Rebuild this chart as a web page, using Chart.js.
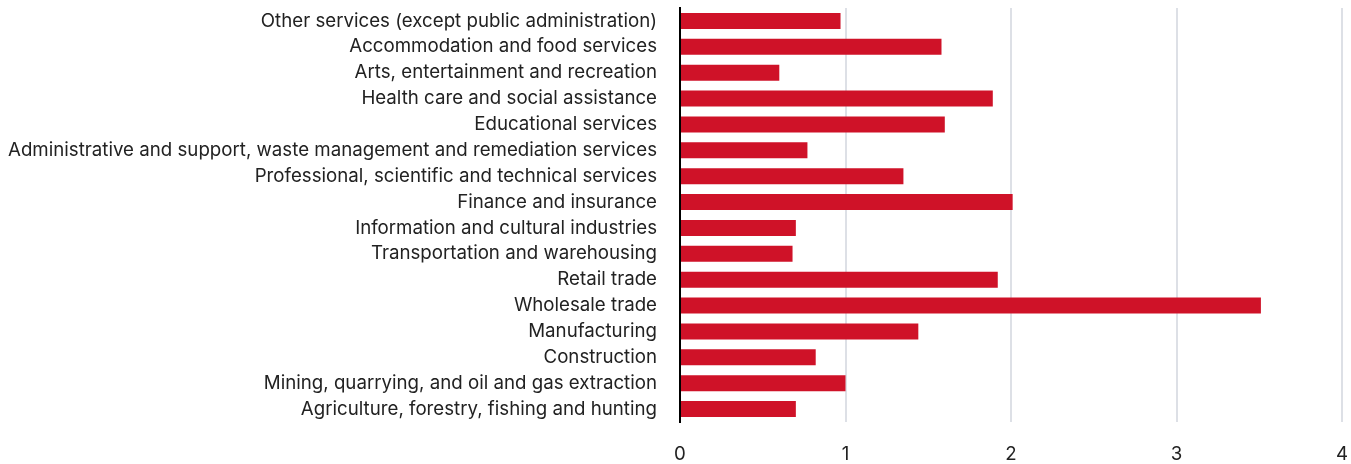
<!DOCTYPE html>
<html>
<head>
<meta charset="utf-8">
<script src="https://cdn.jsdelivr.net/npm/chart.js@4/dist/chart.umd.min.js"></script>
<style>
  html, body { margin: 0; padding: 0; background: #fff; }
  #wrap { width: 1351px; height: 464px; }
</style>
</head>
<body>
<div id="wrap"><canvas id="industries"></canvas></div>
<script>
// industry categories, top to bottom
var industries = [
  "Other services (except public administration)",
  "Accommodation and food services",
  "Arts, entertainment and recreation",
  "Health care and social assistance",
  "Educational services",
  "Administrative and support, waste management and remediation services",
  "Professional, scientific and technical services",
  "Finance and insurance",
  "Information and cultural industries",
  "Transportation and warehousing",
  "Retail trade",
  "Wholesale trade",
  "Manufacturing",
  "Construction",
  "Mining, quarrying, and oil and gas extraction",
  "Agriculture, forestry, fishing and hunting"
];

var values = [0.97, 1.58, 0.60, 1.89, 1.60, 0.77, 1.35, 2.01, 0.70, 0.68, 1.92, 3.51, 1.44, 0.82, 1.00, 0.70];

var xTicks = [0, 1, 2, 3, 4];

Chart.defaults.font.family = "Inter, 'Noto Sans', sans-serif";
Chart.defaults.font.size = 18.7;
Chart.defaults.color = "#222";

// drop the extra room chart.js keeps for half tick labels
function noEdgePad(scale) {
  scale.paddingTop = 0;
  scale.paddingBottom = 0;
  scale.paddingRight = 0;
  scale.paddingLeft = 0;
}

var ctx = document.getElementById("industries").getContext("2d");
var myChart = new Chart(ctx, {
  type: 'bar',
  data: {
    labels: industries,
    datasets: [{
      data: values,
      backgroundColor: "#cf1228",
      barPercentage: 0.62,
      categoryPercentage: 1
    }]
  },
  options: {
    indexAxis: 'y',
    responsive: true,
    maintainAspectRatio: false,
    animation: false,
    layout: { padding: { top: 8, right: 9, bottom: 0, left: 0 } },
    plugins: { legend: { display: false }, tooltip: { enabled: false } },
    scales: {
      x: {
        min: 0,
        max: 4,
        afterBuildTicks: function (axis) {
          axis.ticks = xTicks.map(function (v) { return { value: v }; });
        },
        afterFit: function (scale) {
          noEdgePad(scale);
          scale.height = 42;
        },
        grid: {
          color: function (c) { return c.tick && c.tick.value === 0 ? "rgba(0,0,0,0)" : "#dde0e6"; },
          lineWidth: 2,
          drawTicks: false
        },
        border: { display: false },
        ticks: { padding: 21, color: "#222" }
      },
      y: {
        afterFit: function (scale) {
          noEdgePad(scale);
          scale.width = 680;
        },
        grid: { display: false, drawTicks: false },
        border: { display: true, color: "#000", width: 2 },
        ticks: { padding: 23, color: "#222", autoSkip: false }
      }
    }
  }
});
</script>
</body>
</html>
